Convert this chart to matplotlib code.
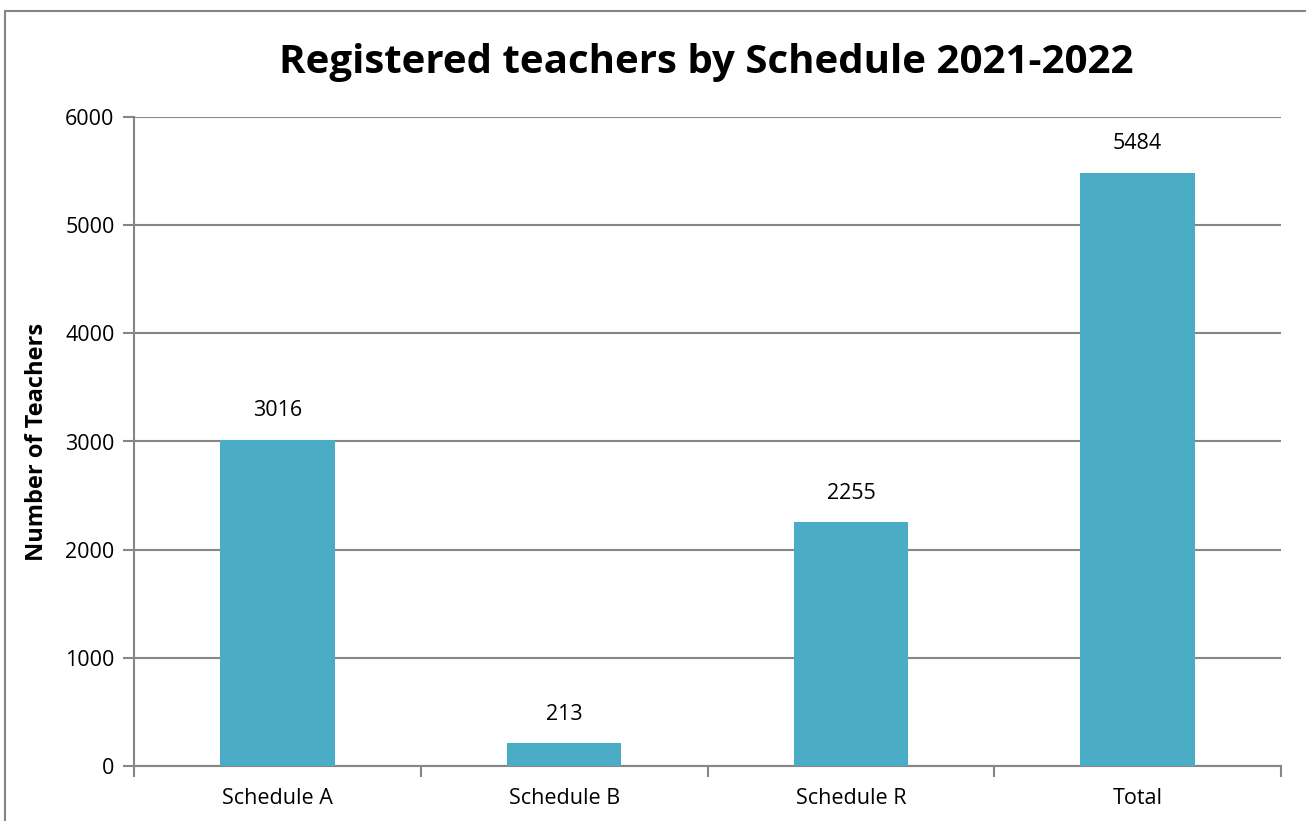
import matplotlib
matplotlib.use("Agg")
import matplotlib.pyplot as plt
from matplotlib.patches import Rectangle
import numpy as np

categories = ["Schedule A", "Schedule B", "Schedule R", "Total"]
teachers = [3016, 213, 2255, 5484]
yticks = [0, 1000, 2000, 3000, 4000, 5000, 6000]

plt.rcParams["font.family"] = ["Open Sans", "DejaVu Sans"]
grey = "#868686"

dpi = 100
fig = plt.figure(figsize=(1306 / dpi, 821 / dpi), dpi=dpi)
ax = fig.add_axes([134 / 1306, 1 - 766 / 821, (1281 - 134) / 1306, (766 - 117) / 821])

# outer chart frame (right/bottom edges fall outside the image)
fig.patches.append(Rectangle((5 / 1306, -0.1), 1.2, 1 - 11 / 821 + 0.1,
                             transform=fig.transFigure, fill=False,
                             edgecolor=grey, linewidth=1.5))

x = np.arange(len(categories))
ax.bar(x, teachers, width=0.4, color="#4BACC6", zorder=3)
for xi, v in zip(x, teachers):
    ax.text(xi, v + 170, str(v), ha="center", va="bottom", fontsize=15.5)

ax.set_xlim(-0.5, len(categories) - 0.5)
ax.set_ylim(0, 6000)
ax.set_yticks(yticks)
ax.set_yticklabels([str(t) for t in yticks], fontsize=15.5)
ax.yaxis.grid(True, color=grey, linewidth=1.5, zorder=0)
ax.set_axisbelow(True)

ax.set_xticks(x)
ax.set_xticklabels(categories, fontsize=15.5)
ax.tick_params(axis="x", length=0, pad=16)
ax.set_xticks(np.arange(-0.5, len(categories)), minor=True)
ax.tick_params(axis="x", which="minor", length=8, color=grey, width=1.5)
ax.tick_params(axis="y", length=8, color=grey, width=1.5, pad=6)

for s in ["top", "right"]:
    ax.spines[s].set_visible(False)
for s in ["left", "bottom"]:
    ax.spines[s].set_color(grey)
    ax.spines[s].set_linewidth(1.5)

ax.set_ylabel("Number of Teachers", fontsize=17, fontweight="bold", labelpad=12)
fig.text(706 / 1306, 1 - 62 / 821, "Registered teachers by Schedule 2021-2022",
         ha="center", va="center", fontsize=29, fontweight="bold")

fig.savefig("out.png", dpi=dpi)
